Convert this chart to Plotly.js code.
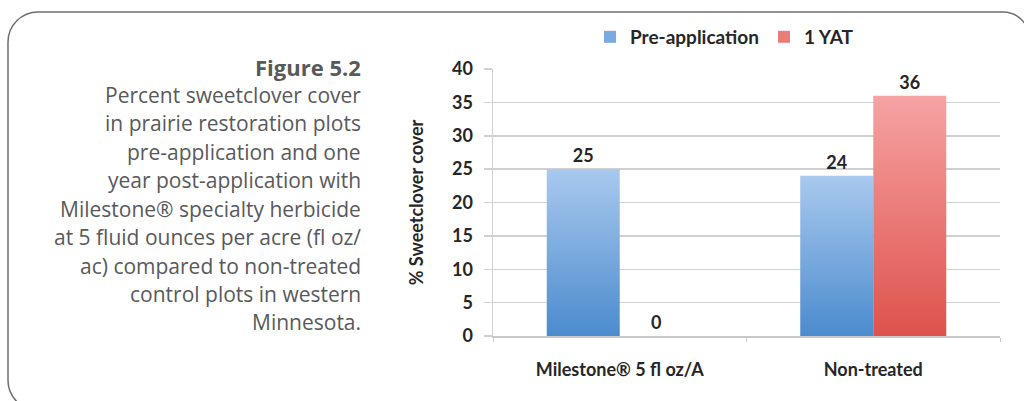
<!DOCTYPE html>
<html>
<head>
<meta charset="utf-8">
<script src="https://cdn.plot.ly/plotly-3.0.1.min.js"></script>
<style>
  html, body { margin: 0; padding: 0; background: #ffffff; }
  #chart { width: 1024px; height: 401px; }
</style>
</head>
<body>
<div id="chart"></div>
<script>
// ---- data ----
var categories = ["Milestone\u00ae 5 fl oz/A", "Non-treated"];
var preApplication = [25, 24];
var oneYAT = [0, 36];
var seriesNames = ["Pre-application", "1 YAT"];
var yTickValues = [0, 5, 10, 15, 20, 25, 30, 35, 40];
var captionTitle = "Figure 5.2";
var captionLines = [
  "Percent sweetclover cover",
  "in prairie restoration plots",
  "pre-application and one",
  "year post-application with",
  "Milestone\u00ae specialty herbicide",
  "at 5 fluid ounces per acre (fl oz/",
  "ac) compared to non-treated",
  "control plots in western",
  "Minnesota."
];

// ---- layout geometry (pixels -> paper) ----
var W = 1024, H = 401;
var L = 493, R = 1000, T = 69, B = 335.7;
function px(x) { return (x - L) / (R - L); }
function py(y) { return (B - y) / (B - T); }

var chartFont = "Lato, 'Open Sans', sans-serif";
var captionFont = "'Open Sans', 'Noto Sans', sans-serif";

var traces = [
  {
    type: "bar",
    name: seriesNames[0],
    x: categories,
    y: preApplication,
    marker: { color: "#7aaae0" },
    text: preApplication.map(String),
    textposition: "outside",
    cliponaxis: false,
    textfont: { family: chartFont, size: 18, color: "#262626", weight: "bold" }
  },
  {
    type: "bar",
    name: seriesNames[1],
    x: categories,
    y: oneYAT,
    marker: { color: "#ec7c78" },
    text: oneYAT.map(String),
    textposition: "outside",
    cliponaxis: false,
    textfont: { family: chartFont, size: 18, color: "#262626", weight: "bold" }
  }
];

// caption annotations
var annotations = [];
annotations.push({
  xref: "paper", yref: "paper", x: px(363), y: py(67),
  xanchor: "right", yanchor: "middle", showarrow: false, align: "right",
  text: "<b>" + captionTitle + "</b>",
  font: { family: captionFont, size: 22, color: "#58595b" }
});
var lineY0 = 95, lineStep = 28.4;
captionLines.forEach(function (t, i) {
  annotations.push({
    xref: "paper", yref: "paper", x: px(363), y: py(lineY0 + i * lineStep),
    xanchor: "right", yanchor: "middle", showarrow: false, align: "right",
    text: t,
    font: { family: captionFont, size: 21, color: "#58595b" }
  });
});

// rounded frame
function framePath() {
  var k = 0.5523;
  var x0 = 8, y0 = 12, r1 = 30;     // top-left
  var xr = 1029, r2 = 26;           // top-right
  var yb = 410, r3 = 30;            // bottom-left
  function P(x, y) { return px(x).toFixed(5) + "," + py(y).toFixed(5); }
  var d = "M" + P(x0 + r3, yb) +
    " C" + P(x0 + r3 - r3 * k, yb) + " " + P(x0, yb - r3 + r3 * k) + " " + P(x0, yb - r3) +
    " L" + P(x0, y0 + r1) +
    " C" + P(x0, y0 + r1 - r1 * k) + " " + P(x0 + r1 - r1 * k, y0) + " " + P(x0 + r1, y0) +
    " L" + P(xr - r2, y0) +
    " C" + P(xr - r2 + r2 * k, y0) + " " + P(xr, y0 + r2 - r2 * k) + " " + P(xr, y0 + r2) +
    " L" + P(xr, yb);
  return d;
}

var layout = {
  width: W, height: H,
  margin: { l: L, r: W - R, t: T, b: H - B },
  paper_bgcolor: "#ffffff",
  plot_bgcolor: "#ffffff",
  barmode: "group",
  bargap: 0.424,
  bargroupgap: 0,
  showlegend: true,
  legend: {
    orientation: "h",
    x: px(590), xanchor: "left",
    y: py(37), yanchor: "middle",
    font: { family: chartFont, size: 19, color: "#262626", weight: "bold" },
    bgcolor: "rgba(0,0,0,0)",
    traceorder: "normal"
  },
  xaxis: {
    type: "category",
    showline: true, linecolor: "#c8c8c8", linewidth: 1.5,
    ticks: "outside", tickson: "boundaries", ticklen: 4, tickcolor: "#c8c8c8",
    showgrid: false, zeroline: false,
    tickfont: { family: chartFont, size: 18, color: "#262626", weight: "bold" },
    ticklabelstandoff: 17,
    fixedrange: true
  },
  yaxis: {
    range: [0, 40],
    tickvals: yTickValues,
    ticktext: yTickValues.map(String),
    showline: true, linecolor: "#d0d0d0", linewidth: 1.5,
    showgrid: true, gridcolor: "#d0d0d0", gridwidth: 1.5,
    zeroline: false,
    ticks: "outside", ticklen: 8, tickcolor: "#d0d0d0", tickwidth: 1.5,
    tickfont: { family: chartFont, size: 18, color: "#262626", weight: "bold" },
    ticklabelstandoff: 7,
    title: {
      text: "% Sweetclover cover",
      font: { family: chartFont, size: 18, color: "#262626", weight: "bold" },
      standoff: 23
    },
    fixedrange: true
  },
  annotations: annotations,
  shapes: [
    {
      type: "path", xref: "paper", yref: "paper", path: framePath(),
      line: { color: "#6e6e6e", width: 1.5 }, layer: "above"
    }
  ]
};

Plotly.newPlot("chart", traces, layout, { staticPlot: true, displayModeBar: false }).then(function (gd) {
  // vertical gradients on bars, like the original
  try {
    var svg = gd.querySelector("svg.main-svg");
    var ns = "http://www.w3.org/2000/svg";
    var defs = svg.querySelector("defs") || svg.insertBefore(document.createElementNS(ns, "defs"), svg.firstChild);
    var grads = [["gBlue", "#a9c9ee", "#4b8bce"], ["gRed", "#f6a3a3", "#de524c"]];
    grads.forEach(function (g) {
      var lg = document.createElementNS(ns, "linearGradient");
      lg.setAttribute("id", g[0]);
      lg.setAttribute("x1", "0"); lg.setAttribute("y1", "0");
      lg.setAttribute("x2", "0"); lg.setAttribute("y2", "1");
      var s1 = document.createElementNS(ns, "stop");
      s1.setAttribute("offset", "0"); s1.setAttribute("stop-color", g[1]);
      var s2 = document.createElementNS(ns, "stop");
      s2.setAttribute("offset", "1"); s2.setAttribute("stop-color", g[2]);
      lg.appendChild(s1); lg.appendChild(s2); defs.appendChild(lg);
    });
    var traceGroups = gd.querySelectorAll(".barlayer .trace");
    traceGroups.forEach(function (tg, i) {
      tg.querySelectorAll("path").forEach(function (p) {
        p.style.fill = "url(#" + grads[i][0] + ")";
      });
    });
  } catch (e) {}
});
</script>
</body>
</html>
